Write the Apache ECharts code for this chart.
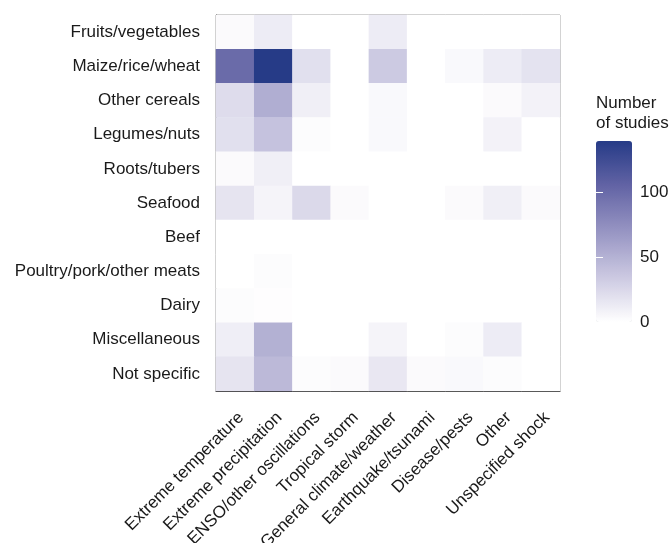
<!DOCTYPE html>
<html>
<head>
<meta charset="utf-8">
<script src="https://cdn.jsdelivr.net/npm/echarts@6/dist/echarts.min.js"></script>
<style>html,body{margin:0;padding:0;background:#fff;}#c{width:672px;height:543px;}</style>
</head>
<body>
<div id="c"></div>
<script>
var foodGroups = ['Fruits/vegetables','Maize/rice/wheat','Other cereals','Legumes/nuts','Roots/tubers','Seafood','Beef','Poultry/pork/other meats','Dairy','Miscellaneous','Not specific'];
var shockTypes = ['Extreme temperature','Extreme precipitation','ENSO/other oscillations','Tropical storm','General climate/weather','Earthquake/tsunami','Disease/pests','Other','Unspecified shock'];
// rows = food groups, columns = shock types
var fruitsVeg     = [3, 12, 0, 0, 12, 0, 0, 0, 0];
var maizeRiceWht  = [100, 140, 20, 0, 34, 0, 4, 12, 18];
var otherCereals  = [22, 53, 10, 0, 4, 0, 0, 3, 8];
var legumesNuts   = [20, 39, 2, 0, 4, 0, 0, 8, 0];
var rootsTubers   = [3, 10, 0, 0, 0, 0, 0, 0, 0];
var seafood       = [17, 7, 24, 3, 0, 0, 3, 10, 3];
var beef          = [0, 0, 0, 0, 0, 0, 0, 0, 0];
var poultryMeats  = [0, 2, 0, 0, 0, 0, 0, 0, 0];
var dairy         = [2, 1, 0, 0, 0, 0, 0, 0, 0];
var miscellaneous = [11, 51, 0, 0, 7, 0, 2, 12, 0];
var notSpecific   = [17, 45, 2, 3, 15, 3, 4, 2, 0];
var matrix = [fruitsVeg, maizeRiceWht, otherCereals, legumesNuts, rootsTubers, seafood, beef, poultryMeats, dairy, miscellaneous, notSpecific];
var legendTicks = [0, 50, 100];
var scaleMax = 140;

var data = [];
matrix.forEach(function(row, r){ row.forEach(function(v, c){ data.push([c, r, v]); }); });

var FONT = '"Liberation Sans", Arial, sans-serif';
var FS = 17;
var chart = echarts.init(document.getElementById('c'), null, {renderer:'canvas'});
chart.setOption({
  animation: false,
  backgroundColor: '#fff',
  title: {
    text: 'Number\nof studies', left: 596, top: 93, padding: 0,
    textStyle: {fontFamily: FONT, fontSize: FS, fontWeight: 'normal', color: '#1a1a1a', lineHeight: 20}
  },
  grid: [
    {left: 216, right: 112, top: 15, bottom: 152, show: true, borderColor: '#8a8a8a', borderWidth: 1,
     containLabel: false, outerBoundsMode: 'none'},
    {left: 596, top: 141, width: 36, height: 181, show: false, containLabel: false, outerBoundsMode: 'none'}
  ],
  xAxis: [
    {type: 'category', data: shockTypes, gridIndex: 0,
     axisLine: {lineStyle: {color: '#222', width: 1}},
     axisTick: {alignWithLabel: true, length: 6, lineStyle: {color: '#444'}},
     axisLabel: {rotate: 45, interval: 0, margin: 18, verticalAlign: 'top', fontSize: FS, fontFamily: FONT, color: '#1a1a1a'},
     splitLine: {show: false}},
    {type: 'value', gridIndex: 1, show: false, min: 0, max: 1}
  ],
  yAxis: [
    {type: 'category', data: foodGroups, inverse: true, gridIndex: 0,
     axisLine: {lineStyle: {color: '#222', width: 1}},
     axisTick: {alignWithLabel: true, length: 6, lineStyle: {color: '#777'}},
     axisLabel: {interval: 0, margin: 16, fontSize: FS, fontFamily: FONT, color: '#1a1a1a'},
     splitLine: {show: false}},
    {type: 'value', gridIndex: 1, position: 'right', min: 0, max: scaleMax, interval: 50,
     axisLine: {show: false},
     axisTick: {show: true, inside: true, length: 7, customValues: [50, 100], lineStyle: {color: '#fff', width: 1}},
     axisLabel: {margin: 8, fontSize: FS, fontFamily: FONT, color: '#1a1a1a', customValues: legendTicks},
     splitLine: {show: false}, z: 10},
    {type: 'value', gridIndex: 1, position: 'left', min: 0, max: scaleMax, interval: 50,
     axisLine: {show: false},
     axisTick: {show: true, inside: true, length: 7, customValues: [50, 100], lineStyle: {color: '#fff', width: 1}},
     axisLabel: {show: false}, splitLine: {show: false}, z: 10}
  ],
  visualMap: {
    type: 'continuous', min: 0, max: scaleMax, seriesIndex: 0,
    left: 596, top: 141, itemWidth: 36, itemHeight: 181, padding: 0,
    calculable: false, text: null, showLabel: false, hoverLink: false,
    inRange: {color: ['#ffffff', '#cbc8e1', '#9795c3', '#6364a5', '#263b87']}
  },
  series: [{
    type: 'heatmap', xAxisIndex: 0, yAxisIndex: 0, data: data,
    itemStyle: {borderWidth: 0},
    emphasis: {disabled: true}
  }]
});
</script>
</body>
</html>
